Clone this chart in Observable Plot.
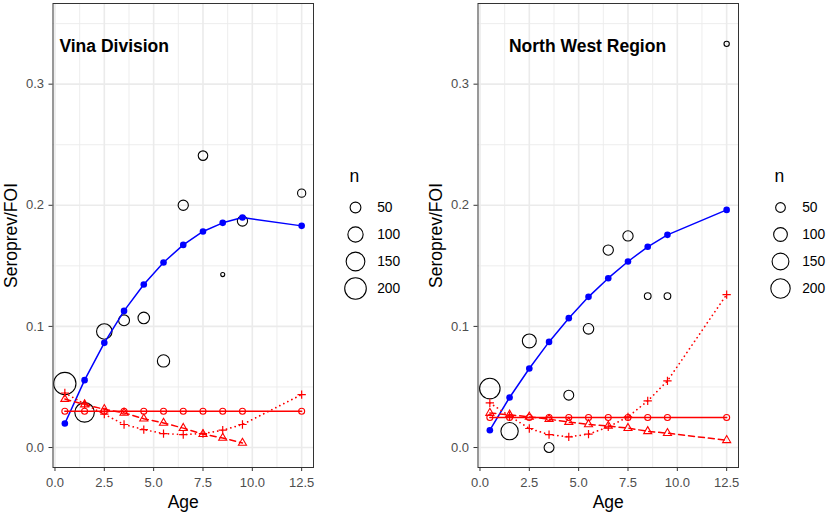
<!DOCTYPE html>
<html>
<head>
<meta charset="utf-8">
<script src="https://cdn.jsdelivr.net/npm/d3@7"></script>
<script src="https://cdn.jsdelivr.net/npm/@observablehq/plot@0.6"></script>
<style>
  body { margin: 0; background: #fff; }
  #wrap { position: relative; width: 829px; height: 515px; overflow: hidden; background: #fff; }
  .chart { position: absolute; top: 0; width: 404px; height: 515px; }
</style>
</head>
<body>
<div id="wrap">
  <div class="chart" id="c1" style="left:0px"></div>
  <div class="chart" id="c2" style="left:425px"></div>
</div>
<script>
// ---------- data ----------
const ages = [0.5, 1.5, 2.5, 3.5, 4.5, 5.5, 6.5, 7.5, 8.5, 9.5, 12.5];

// Vina Division
const vinaObs   = [0.0528, 0.029, 0.0958, 0.105, 0.107, 0.0715, 0.200, 0.241, 0.1428, 0.187, 0.210];
const vinaN     = [213, 163, 103, 51, 57, 65, 45, 39, 7, 45, 29];
const vinaFit   = [0.0198, 0.0556, 0.0864, 0.1128, 0.1346, 0.1528, 0.1673, 0.1784, 0.1855, 0.1899, 0.183];
const vinaFoiConst = [0.030, 0.030, 0.030, 0.030, 0.030, 0.030, 0.030, 0.030, 0.030, 0.030, 0.030];
const vinaFoiLin   = [0.040, 0.0355, 0.0316, 0.0286, 0.0238, 0.0203, 0.016, 0.011, 0.0079, 0.0038, null];
const vinaFoiQuad  = [0.045, 0.036, 0.0275, 0.019, 0.0148, 0.0115, 0.0107, 0.0115, 0.0143, 0.019, 0.0437];

// North West Region
const nwObs   = [0.0487, 0.0135, 0.088, 0.0, 0.0432, 0.098, 0.163, 0.1747, 0.125, 0.125, 0.3333];
const nwN     = [223, 159, 103, 52, 52, 59, 56, 56, 24, 24, 15];
const nwFit   = [0.0143, 0.0413, 0.0652, 0.0872, 0.1068, 0.1244, 0.1398, 0.1536, 0.1657, 0.1756, 0.1962];
const nwFoiConst = [0.0248, 0.0248, 0.0248, 0.0248, 0.0248, 0.0248, 0.0248, 0.0248, 0.0248, 0.0248, 0.0248];
const nwFoiLin   = [0.0285, 0.027, 0.0253, 0.0234, 0.021, 0.0191, 0.0178, 0.016, 0.0134, 0.0118, 0.006];
const nwFoiQuad  = [0.0368, 0.026, 0.0157, 0.0107, 0.0088, 0.011, 0.017, 0.0253, 0.0385, 0.055, 0.1263];

// axes / legend
const xMajor = [0, 2.5, 5, 7.5, 10, 12.5];
const xMinor = [1.25, 3.75, 6.25, 8.75, 11.25];
const yMajor = [0, 0.1, 0.2, 0.3];
const yMinor = [0.05, 0.15, 0.25, 0.35];
const legendN = [50, 100, 150, 200];

const FONT = '"Liberation Sans", Arial, sans-serif';
const RED = "#ff0000";
const BLUE = "#0000ff";
const fmt1 = d3.format(".1f");

function makeChart(obs, n, fit, fConst, fLin, fQuad, title, titleX, rMax) {
  const rows = ages.map((a, i) => ({
    age: a, obs: obs[i], n: n[i], fit: fit[i],
    c: fConst[i], lin: fLin[i], quad: fQuad[i]
  }));
  return Plot.plot({
    width: 404, height: 515,
    marginLeft: 52.5, marginRight: 91, marginTop: 3, marginBottom: 48,
    style: { fontFamily: FONT, background: "white", overflow: "visible" },
    x: { domain: [-0.1, 13.1] },
    y: { domain: [-0.0165, 0.3666] },
    r: { type: "sqrt", domain: [0, 200], range: [0, rMax] },
    marks: [
      Plot.ruleX(xMinor, { stroke: "#ebebeb", strokeWidth: 0.9 }),
      Plot.ruleY(yMinor, { stroke: "#ebebeb", strokeWidth: 0.9 }),
      Plot.ruleX(xMajor, { stroke: "#ebebeb", strokeWidth: 1.6 }),
      Plot.ruleY(yMajor, { stroke: "#ebebeb", strokeWidth: 1.6 }),
      Plot.dot(rows, { x: "age", y: "obs", r: "n", stroke: "#000", fill: "none", strokeWidth: 1.1 }),
      Plot.line(rows, { x: "age", y: "fit", stroke: BLUE, strokeWidth: 1.5 }),
      Plot.dot(rows, { x: "age", y: "fit", r: 3.3, fill: BLUE }),
      Plot.line(rows, { x: "age", y: "c", stroke: RED, strokeWidth: 1.5 }),
      Plot.dot(rows, { x: "age", y: "c", r: 3, stroke: RED, fill: "none", strokeWidth: 1.1 }),
      Plot.line(rows.filter(d => d.lin != null), { x: "age", y: "lin", stroke: RED, strokeWidth: 1.5, strokeDasharray: "6,4" }),
      Plot.dot(rows.filter(d => d.lin != null), { x: "age", y: "lin", symbol: "triangle", r: 3, stroke: RED, fill: "none", strokeWidth: 1.1 }),
      Plot.line(rows, { x: "age", y: "quad", stroke: RED, strokeWidth: 1.7, strokeDasharray: "0.1,4.4", strokeLinecap: "round" }),
      Plot.dot(rows, { x: "age", y: "quad", symbol: "plus", r: 2.8, stroke: RED, fill: "none", strokeWidth: 1.2 }),
      Plot.frame({ stroke: "#333", strokeWidth: 1 }),
      Plot.axisX(xMajor, { tickFormat: fmt1, tickSize: 4, tickPadding: 6, fontSize: 13, stroke: "#333", fill: "#4d4d4d", label: null }),
      Plot.axisY(yMajor, { tickFormat: fmt1, tickSize: 4, tickPadding: 5, fontSize: 13, stroke: "#333", fill: "#4d4d4d", label: null }),
      Plot.text(["Age"], { text: d => d, frameAnchor: "bottom", lineAnchor: "middle", dy: 35, fontSize: 17.5, fill: "#000" }),
      Plot.text(["Seroprev/FOI"], { text: d => d, frameAnchor: "left", textAnchor: "middle", lineAnchor: "middle", rotate: -90, dx: -41.4, fontSize: 17.5, fill: "#000" }),
      Plot.text([title], { text: d => d, x: () => titleX, y: () => 0.3313, lineAnchor: "middle", fontWeight: "bold", fontSize: 17.5, fill: "#000" })
    ]
  });
}

function makeLegend(rMax) {
  return Plot.plot({
    width: 80, height: 145, margin: 0,
    style: { fontFamily: FONT, background: "transparent", overflow: "visible" },
    x: { axis: null },
    y: { type: "point", padding: 0, domain: legendN, range: [46.7, 128], axis: null },
    r: { type: "sqrt", domain: [0, 200], range: [0, rMax] },
    marks: [
      Plot.dot(legendN, { y: d => d, r: d => d, frameAnchor: "left", dx: 25, stroke: "#000", fill: "none", strokeWidth: 1.1 }),
      Plot.text(legendN, { y: d => d, text: d => String(d), frameAnchor: "left", dx: 46.7, textAnchor: "start", lineAnchor: "middle", fontSize: 13.8, fill: "#000" }),
      Plot.text(["n"], { text: d => d, frameAnchor: "top-left", textAnchor: "start", lineAnchor: "middle", dx: 19, dy: 15.4, fontSize: 17.5, fill: "#000" })
    ]
  });
}

function mount(id, chart, legend) {
  const el = document.getElementById(id);
  el.appendChild(chart);
  legend.style.position = "absolute";
  legend.style.left = "330px";
  legend.style.top = "160px";
  el.appendChild(legend);
}

mount("c1",
  makeChart(vinaObs, vinaN, vinaFit, vinaFoiConst, vinaFoiLin, vinaFoiQuad, "Vina Division", 3.0, 10.8),
  makeLegend(10.8));
mount("c2",
  makeChart(nwObs, nwN, nwFit, nwFoiConst, nwFoiLin, nwFoiQuad, "North West Region", 5.45, 9.7),
  makeLegend(9.7));
</script>
</body>
</html>
